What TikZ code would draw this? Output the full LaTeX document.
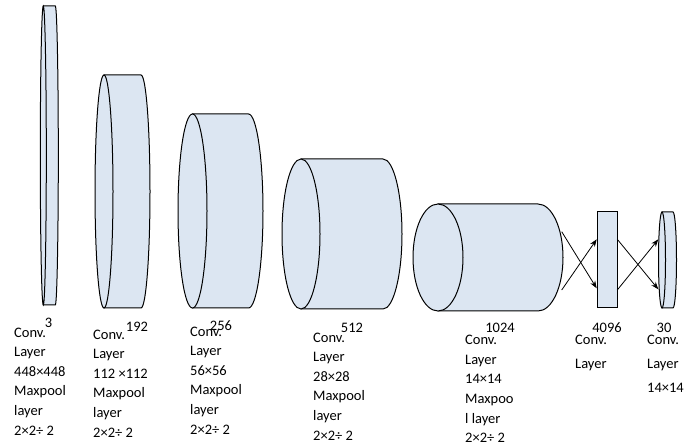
\documentclass[tikz,border=0pt]{standalone}
\usepackage{fontspec}
\setmainfont{Carlito}
\usetikzlibrary{arrows.meta}
\definecolor{cylfill}{HTML}{DCE6F2}
\newcommand\cylpic[5]{%
  \filldraw[edge, fill=cylfill] (#1,#3-#5) -- (#2,#3-#5)
    arc[start angle=90, end angle=-90, x radius=#4pt, y radius=#5pt] -- (#1,#3+#5) -- cycle;
  \filldraw[edge, fill=cylfill] (#1,#3) ellipse[x radius=#4pt, y radius=#5pt];
}
\begin{document}
\begin{tikzpicture}[x=1pt,y=-1pt,
  edge/.style={line width=1pt, draw=black},
  lbl/.style={font=\fontsize{14.5}{19.6}\selectfont, align=left, anchor=north west, inner sep=0pt},
  lblwide/.style={lbl, font=\fontsize{14.5}{24}\selectfont},
  num/.style={font=\fontsize{14.5}{16}\selectfont, anchor=base, inner sep=0pt},
  arr/.style={line width=0.8pt, -{Stealth[length=7.5pt,width=5.5pt]}}]
\useasboundingbox (0,0) rectangle (691,446);

% cylinders
\cylpic{43.3}{55.3}{155.5}{3}{149.5}
\cylpic{104}{141}{191.5}{9}{116.5}
\cylpic{192.5}{248.5}{211}{14.5}{97}
\cylpic{301}{383}{234}{19}{75}
\cylpic{438}{538}{257.5}{25}{53.5}
\cylpic{662}{673}{260}{3.5}{48}

% fully connected box
\node[edge, fill=cylfill, rectangle, minimum width=20pt, minimum height=96pt, inner sep=0pt] (fc) at (607,260) {};

% arrow end points
\coordinate (c5top) at (561.7,231.7);
\coordinate (c5bot) at (561.7,290);
\coordinate (fcinbot) at (596.7,288.3);
\coordinate (fcintop) at (596.7,239.3);
\coordinate (fcouttop) at (617.3,239.3);
\coordinate (fcoutbot) at (617.3,290);
\coordinate (c6bot) at (658.3,289.3);
\coordinate (c6top) at (658.3,239.3);

\draw[arr] (c5top) -- (fcinbot);
\draw[arr] (c5bot) -- (fcintop);
\draw[arr] (fcouttop) -- (c6bot);
\draw[arr] (fcoutbot) -- (c6top);

% numbers
\node[num] (n1) at (48.5,328) {3};
\node[num] (n2) at (137,332) {192};
\node[num] (n3) at (221,331) {256};
\node[num] (n4) at (352,333) {512};
\node[num] (n5) at (500,333) {1024};
\node[num] (n6) at (607,333) {4096};
\node[num] (n7) at (664,333) {30};

% text blocks
\node[lbl] (t1) at (14,327.5) {Conv.\\Layer\\448×448\\Maxpool\\layer\\2×2÷ 2};
\node[lbl] (t2) at (93,329.5) {Conv.\\Layer\\112 ×112\\Maxpool\\layer\\2×2÷ 2};
\node[lbl] (t3) at (190,326.5) {Conv.\\Layer\\56×56\\Maxpool\\layer\\2×2÷ 2};
\node[lbl] (t4) at (313,332.5) {Conv.\\Layer\\28×28\\Maxpool\\layer\\2×2÷ 2};
\node[lbl] (t5) at (465,335) {Conv.\\Layer\\14×14\\Maxpoo\\l layer\\2×2÷ 2};
\node[lblwide] (t6) at (575,334.5) {Conv.\\Layer};
\node[lblwide] (t7) at (647,334.5) {Conv.\\Layer\\14×14};
\end{tikzpicture}
\end{document}
